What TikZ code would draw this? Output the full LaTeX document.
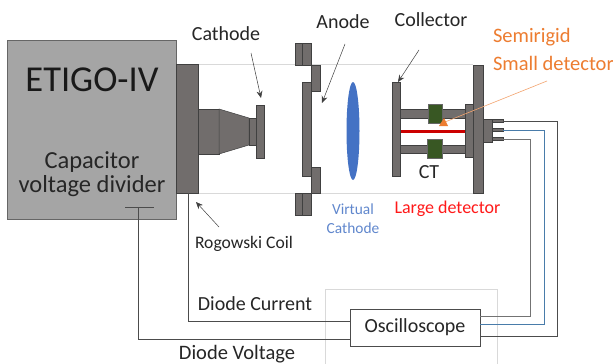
\documentclass[tikz,border=0pt]{standalone}
\usepackage{fontspec}
\setmainfont{Carlito}
\usetikzlibrary{arrows.meta}
\definecolor{metal}{HTML}{716D6C}
\definecolor{etigo}{HTML}{A5A5A5}
\definecolor{greenb}{HTML}{385723}
\definecolor{orangeT}{HTML}{ED7D31}
\definecolor{blueT}{HTML}{4472C4}
\definecolor{blueW}{HTML}{5B9BD5}
\definecolor{tube}{HTML}{D9D9D9}
\tikzset{
 part/.style={draw=black!75,fill=metal,line width=.5pt,inner sep=0,outer sep=0},
 gpart/.style={draw=black!60,fill=greenb,line width=.5pt},
 lbl/.style={inner sep=0,outer sep=0,text=black!85,font=\fontsize{20}{24}\selectfont,align=center},
 wire/.style={line width=.6pt,draw=black!70},
 greyw/.style={line width=.6pt,draw=black!55},
 bluew/.style={line width=.6pt,draw=blueW!80!black},
 ptr/.style={line width=.5pt,draw=black!75,-{Stealth[length=7pt,width=6pt]}},
}
\begin{document}
\begin{tikzpicture}[x=1pt,y=-1pt]
\useasboundingbox (0,0) rectangle (613,364);
\fill[white] (0,0) rectangle (613,364);
% light frame around oscilloscope
\draw[tube,line width=.8pt] (325,364) |- (497,289) -- (497,364);
% tube
\draw[tube,line width=1pt] (198,64) -- (473,64);
\draw[tube,line width=1pt] (198,193) -- (473,193);
% machine
\draw[fill=etigo,draw=black!60,line width=.5pt] (7,40) rectangle (176,219);
\draw[part] (176,64) rectangle (198,193);
\coordinate (blockBL) at (188,193);
% cathode
\draw[part] (198,109) rectangle (219,154);
\draw[part] (219,109) -- (249,118) -- (249,145) -- (219,154) -- cycle;
\draw[part] (249,118) rectangle (256,145);
\node[part,minimum width=8pt,minimum height=53pt] (cathodeP) at (260,131.5) {};
% anode
\draw[part] (295,43) rectangle (311,65); \draw[black!75,line width=.5pt] (302,43) -- (302,65);
\draw[part] (295,193) rectangle (311,215); \draw[black!75,line width=.5pt] (302,193) -- (302,215);
\draw[part] (311,65) rectangle (320,91);
\draw[part] (311,167) rectangle (320,193);
\node[part,minimum width=9pt,minimum height=94pt] (anodeP) at (306.5,129) {};
% virtual cathode
\fill[blueT] (353,131) ellipse [x radius=6.5,y radius=49];
% collector
\draw[part] (400,109) rectangle (465,118);
\draw[part] (400,145) rectangle (465,153);
\draw[red!80!black,line width=3pt] (400,131) -- (465,131);
\node[part,minimum width=8pt,minimum height=94pt] (collP) at (396,129) {};
\draw[gpart] (428,104) rectangle (442,123);
\draw[gpart] (427,139) rectangle (442,158);
\draw[part] (465,104) rectangle (474,157);
\draw[part] (473,65) rectangle (483,193);
\draw[part] (483,119) rectangle (492,142);
\draw[part] (492,119.5) rectangle (503,122.5);
\draw[part] (492,128.5) rectangle (503,131.5);
\draw[part] (492,137.5) rectangle (503,140.5);
\coordinate (pinA) at (503,121); \coordinate (pinB) at (503,130); \coordinate (pinC) at (503,139);
% oscilloscope
\node[draw=black!70,fill=white,line width=.6pt,minimum width=130pt,minimum height=37pt,inner sep=0,font=\fontsize{20}{24}\selectfont,text=black!85] (osc) at (415,327.5) {Oscilloscope};
% wires
\coordinate (tickL) at (125,207); \coordinate (tickR) at (154,207); \coordinate (tickM) at (138,207);
\draw[wire] (tickL) -- (tickR);
\draw[wire] (tickM) |- (osc.west |- 0,339);
\draw[wire] (blockBL) |- (osc.west |- 0,321);
\draw[wire] (pinA) -| (557,336) -- (osc.east |- 0,336);
\draw[bluew] (pinB) -| (544,324) -- (osc.east |- 0,324);
\draw[greyw] (pinC) -| (530,316) -- (osc.east |- 0,316);
% labels
\node[inner sep=0,text=black!90,font=\fontsize{36.5}{40}\selectfont] (etigoL) at (92,80) {ETIGO-IV};
\node[lbl,font=\fontsize{24.5}{24}\selectfont] (cap) at (92,174) {Capacitor\\voltage divider};
\node[lbl] (cathodeL) at (226,34) {Cathode};
\node[lbl] (anodeL) at (343,22) {Anode};
\node[lbl] (collL) at (431,20) {Collector};
\node[lbl,font=\fontsize{20.5}{24}\selectfont,text=orangeT,align=left,anchor=west] (semi) at (493,37) {Semirigid};
\node[lbl,font=\fontsize{20.5}{24}\selectfont,text=orangeT,align=left,anchor=west] (small) at (493,63) {Small detector};
\node[lbl,font=\fontsize{18}{20}\selectfont,text=red!90] (large) at (447.5,209) {Large detector};
\node[lbl,font=\fontsize{15.4}{19}\selectfont,text=blueT!85] (virt) at (353,219) {Virtual\\Cathode};
\node[lbl,font=\fontsize{17.6}{20}\selectfont] (rog) at (244,244) {Rogowski Coil};
\node[lbl] (ct) at (429,172) {CT};
\node[lbl] (dc) at (255,304) {Diode Current};
\node[lbl,font=\fontsize{20.5}{24}\selectfont] (dv) at (237,354) {Diode Voltage};
% pointers
\draw[ptr] (251,53) -- (261,98);
\draw[ptr] (345,44) -- (322,103);
\draw[ptr] (219,227) -- (196,202);
\draw[ptr] (419,50) -- (398,82);
\draw[orangeT!70,line width=.6pt] (547,81) -- (445,122);
\fill[orangeT] (444,118) -- (439,126) -- (448,126) -- cycle;
\end{tikzpicture}
\end{document}
